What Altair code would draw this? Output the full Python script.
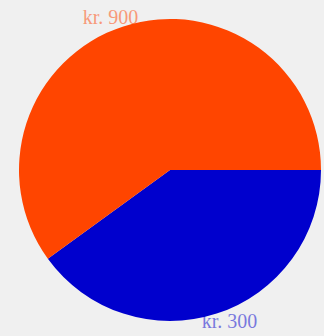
import math
import altair as alt
import pandas as pd

labels = ["kr. 300", "kr. 900"]
shares = [40, 60]
order = [0, 1]
colors = ["#0000CD", "#FF4500"]

df = pd.DataFrame({"label": labels, "share": shares, "order": order})

base = alt.Chart(df).encode(
    theta=alt.Theta("share:Q", stack=True,
                    scale=alt.Scale(range=[math.pi / 2, math.pi / 2 + 2 * math.pi])),
    color=alt.Color("label:N", scale=alt.Scale(domain=labels, range=colors), legend=None),
    order=alt.Order("order:Q"),
    x=alt.value(170),
    y=alt.value(170),
)

arcs = base.mark_arc(radius=151)
text = base.mark_text(radius=163, thetaOffset=-0.06, font="Liberation Serif",
                      fontSize=20, opacity=0.5).encode(
    text="label:N"
)

chart = (arcs + text).properties(
    width=324, height=336, padding=0, background="#f0f0f0",
    autosize=alt.AutoSizeParams(type="none"),
).configure_view(stroke=None)

chart.save("out.html", embed_options={"renderer": "svg", "actions": False})
